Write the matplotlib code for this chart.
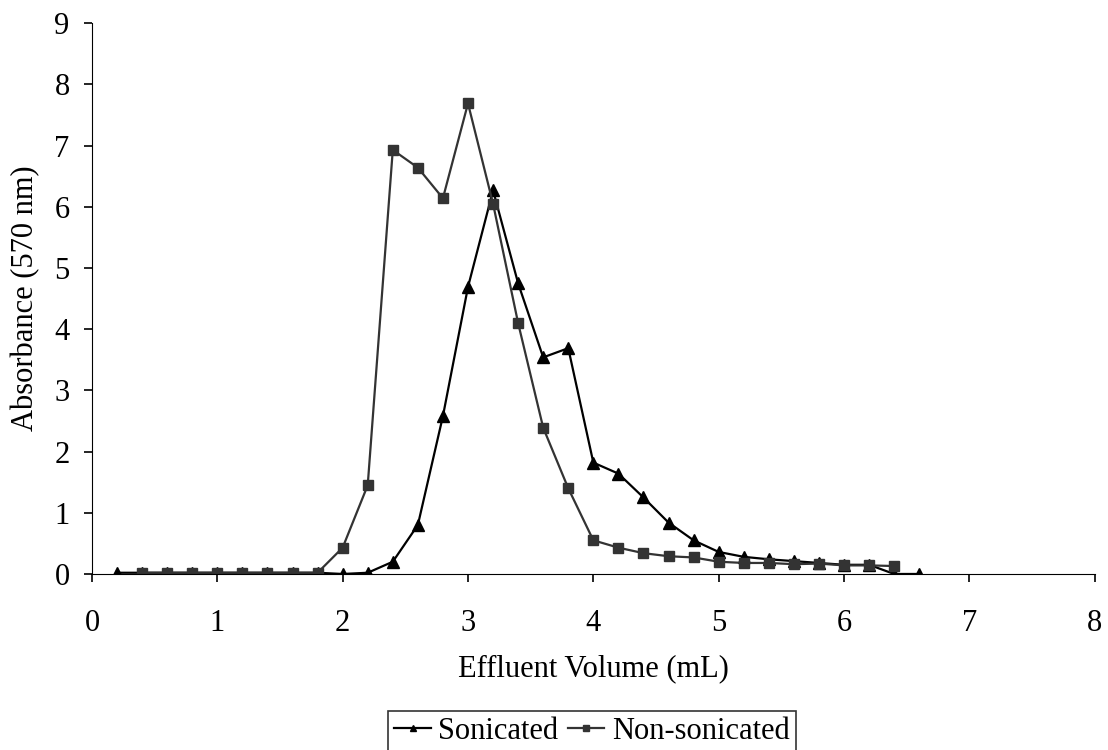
import matplotlib
matplotlib.use("Agg")
import matplotlib.pyplot as plt

plt.rcParams['font.family'] = ['Liberation Serif', 'DejaVu Serif']

# effluent volume (mL)
vol_son = [0.2, 0.4, 0.6, 0.8, 1.0, 1.2, 1.4, 1.6, 1.8, 2.0, 2.2, 2.4, 2.6, 2.8,
           3.0, 3.2, 3.4, 3.6, 3.8, 4.0, 4.2, 4.4, 4.6, 4.8, 5.0, 5.2, 5.4, 5.6,
           5.8, 6.0, 6.2, 6.4, 6.6]
abs_son = [0.02, 0.02, 0.02, 0.02, 0.02, 0.02, 0.02, 0.02, 0.02, 0.0, 0.02, 0.2,
           0.8, 2.58, 4.69, 6.27, 4.75, 3.54, 3.69, 1.82, 1.64, 1.25, 0.84, 0.55,
           0.36, 0.28, 0.24, 0.21, 0.18, 0.15, 0.15, 0.0, 0.0]

vol_non = [0.4, 0.6, 0.8, 1.0, 1.2, 1.4, 1.6, 1.8, 2.0, 2.2, 2.4, 2.6, 2.8, 3.0,
           3.2, 3.4, 3.6, 3.8, 4.0, 4.2, 4.4, 4.6, 4.8, 5.0, 5.2, 5.4, 5.6, 5.8,
           6.0, 6.2, 6.4]
abs_non = [0.02, 0.02, 0.02, 0.02, 0.02, 0.02, 0.02, 0.02, 0.43, 1.45, 6.93, 6.64,
           6.14, 7.69, 6.05, 4.1, 2.39, 1.4, 0.55, 0.43, 0.34, 0.29, 0.27, 0.2,
           0.18, 0.18, 0.16, 0.17, 0.14, 0.14, 0.13]

fig = plt.figure(figsize=(11.08, 7.5), dpi=100)
ax = fig.add_axes([0.083, 0.2347, 0.905, 0.7343])

ax.plot(vol_son, abs_son, color='black', marker='^', markersize=8, lw=1.6,
        label='Sonicated')
ax.plot(vol_non, abs_non, color='#333333', marker='s', markersize=6.5, lw=1.6,
        label='Non-sonicated')

ax.set_xlim(0, 8)
ax.set_ylim(0, 9)
ax.set_xticks(range(0, 9))
ax.set_yticks(range(0, 10))
ax.spines['top'].set_visible(False)
ax.spines['right'].set_visible(False)
ax.tick_params(direction='out', length=6, labelsize=22, width=1.2)
ax.tick_params(axis='x', pad=19)
ax.tick_params(axis='y', pad=10)
ax.set_xlabel('Effluent Volume (mL)', fontsize=22, labelpad=12)
ax.set_ylabel('Absorbance (570 nm)', fontsize=22, labelpad=10)

leg = ax.legend(loc='upper center', bbox_to_anchor=(592 / 1108, 1 - 711 / 750),
                bbox_transform=fig.transFigure, ncol=2,
                fontsize=22, frameon=True, fancybox=False, edgecolor='black',
                handlelength=1.2, handletextpad=0.25, columnspacing=0.3,
                borderpad=0.2, borderaxespad=0, markerscale=0.6)
leg.get_frame().set_linewidth(1.2)

fig.savefig('out.png', dpi=100)
